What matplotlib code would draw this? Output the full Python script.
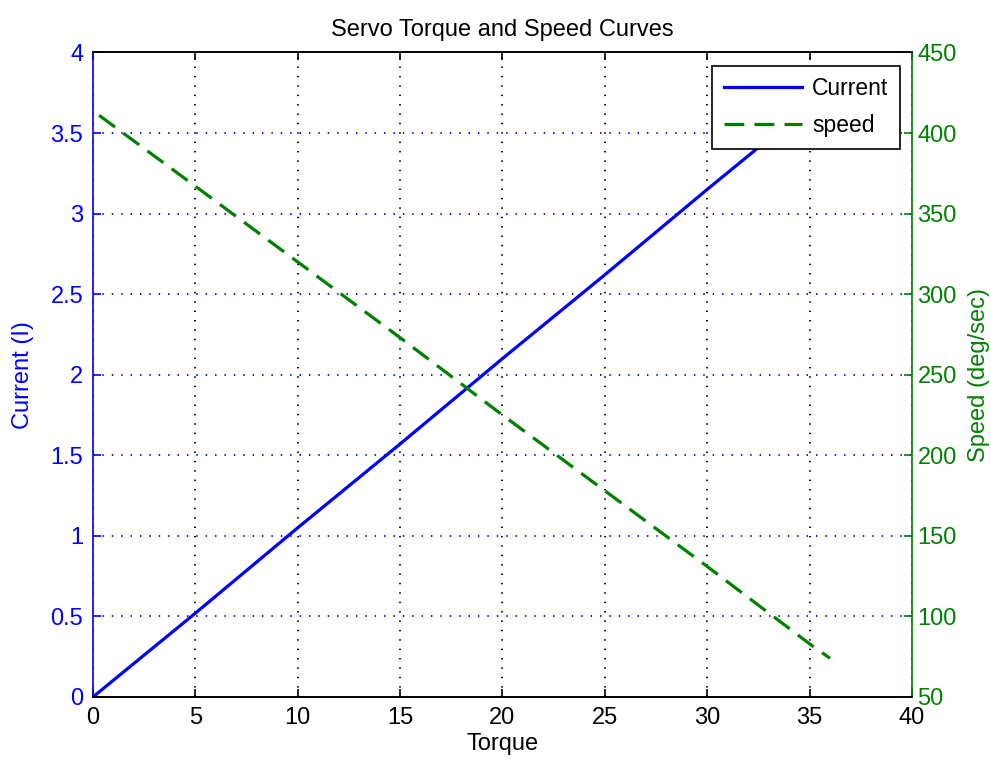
import matplotlib.pyplot as plt

# Luetut arvot kuvasta
torque_current = [0, 5, 10, 15, 20, 25, 30, 35, 36]
current = [0, 0.52, 1.05, 1.57, 2.10, 2.62, 3.15, 3.67, 3.78]

torque_speed = [0.3, 5, 10, 15, 20, 25, 30, 35, 36]
speed = [411, 367, 320, 273, 225, 178, 131, 83, 74]

x_ticks = [0, 5, 10, 15, 20, 25, 30, 35, 40]
left_ticks = [0, 0.5, 1, 1.5, 2, 2.5, 3, 3.5, 4]
right_ticks = [50, 100, 150, 200, 250, 300, 350, 400, 450]

plt.rcParams['font.family'] = ['Liberation Sans', 'DejaVu Sans']
plt.rcParams['font.size'] = 17

blue = (0, 0, 1)
green = (0, 0.5, 0)

fig = plt.figure(figsize=(9.91, 7.66), dpi=100)
ax = fig.add_axes([0.0938, 0.0901, 0.8264, 0.8414])
ax2 = ax.twinx()

l1, = ax.plot(torque_current, current, color=blue, lw=2.3, label='Current')
l2, = ax2.plot(torque_speed, speed, color=green, lw=2.3, ls=(0, (6.2, 3.2)), label='speed')

ax.set_xlim(0, 40)
ax.set_ylim(0, 4)
ax2.set_ylim(50, 450)
ax.set_xticks(x_ticks)
ax.set_xticklabels([str(t) for t in x_ticks])
ax.set_yticks(left_ticks)
ax.set_yticklabels(['0', '0.5', '1', '1.5', '2', '2.5', '3', '3.5', '4'])
ax2.set_yticks(right_ticks)

# Ruudukko: pystyviivat mustina, vaakaviivat sinisinä
ax.xaxis.grid(True, color='black', ls=(0, (0.8, 4.4)), lw=1.3)
ax.yaxis.grid(True, color=blue, ls=(0, (0.8, 4.4)), lw=1.3)

ax.tick_params(axis='x', direction='in', length=6, width=1.2, top=True, colors='black', pad=7)
ax.tick_params(axis='y', direction='in', length=6, width=1.2, colors=blue, labelcolor=blue, pad=7)
ax2.tick_params(axis='y', direction='in', length=6, width=1.2, colors=green, labelcolor=green, pad=4)

ax.spines['left'].set_color(blue)
ax2.spines['left'].set_visible(False)
ax.spines['right'].set_visible(False)
ax2.spines['right'].set_color(green)
for s in ['top', 'bottom']:
    ax.spines[s].set_color('black')
    ax2.spines[s].set_color('black')
for a in [ax, ax2]:
    for sp in a.spines.values():
        sp.set_linewidth(1.2)

ax.set_xlabel('Torque', labelpad=3)
ax.set_ylabel('Current (I)', color=blue, labelpad=12)
ax2.set_ylabel('Speed (deg/sec)', color=green, labelpad=8)
ax.set_title('Servo Torque and Speed Curves', fontsize=17, pad=12)

leg = ax2.legend([l1, l2], ['Current', 'speed'], loc='upper right',
                 bbox_to_anchor=(0.9853, 0.979), borderaxespad=0, fancybox=False,
                 framealpha=1, edgecolor='black', fontsize=16.5, handlelength=3.4,
                 borderpad=0.5, labelspacing=0.6, handletextpad=0.45)
leg.get_frame().set_linewidth(1.2)

plt.savefig('out.png', dpi=100)
